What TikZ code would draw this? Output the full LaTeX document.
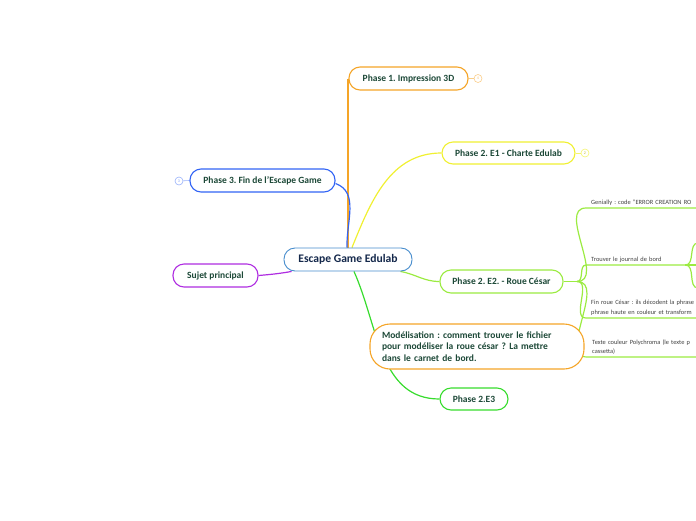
\documentclass[tikz,border=0pt]{standalone}
\usepackage{fontspec}
\setmainfont{Carlito}
\frenchspacing
\usetikzlibrary{backgrounds}

\definecolor{orangeline}{RGB}{245,165,40}
\definecolor{yellowline}{RGB}{240,240,50}
\definecolor{blueline}{RGB}{50,100,245}
\definecolor{centralline}{RGB}{70,140,205}
\definecolor{purpleline}{RGB}{175,45,225}
\definecolor{limeline}{RGB}{155,235,65}
\definecolor{greenline}{RGB}{55,220,45}
\definecolor{topictext}{RGB}{28,72,55}
\definecolor{centraltext}{RGB}{20,40,75}

\tikzset{
  topic/.style={draw, line width=1.1pt, fill=white, rounded corners=11pt, minimum height=23pt, inner sep=0pt, text=topictext, font=\fontsize{9.5}{11}\selectfont\bfseries},
  link/.style={line width=1.2pt},
  leaf/.style={anchor=south west, inner xsep=5pt, inner ysep=2pt, align=left, text=black!75, font=\fontsize{6.4}{9.8}\selectfont},
  marker/.style={circle, draw, line width=0.6pt, minimum size=8pt, inner sep=0pt, font=\fontsize{4}{4}\selectfont}
}

\begin{document}
\begin{tikzpicture}[x=1pt,y=1pt]
    \clip (0,0) rectangle (696,-520);

    % Central topic
    \node[topic, draw=centralline, line width=0.9pt, text=centraltext, minimum width=128pt, font=\fontsize{11.6}{13}\selectfont\bfseries] (central) at (348,-259.5) {Escape Game Edulab};

    % Main topics
    \node[topic, draw=orangeline, minimum width=119pt] (impression) at (408.5,-78.5) {Phase 1. Impression 3D};
    \node[topic, draw=yellowline, minimum width=133pt, minimum height=22pt] (charte) at (508.5,-153) {Phase 2.\ E1 - Charte Edulab};
    \node[topic, draw=blueline, minimum width=145pt] (fin) at (262.5,-180.5) {Phase 3. Fin de l'Escape Game};
    \node[topic, draw=purpleline, minimum width=85pt] (sujet) at (215.5,-275.5) {Sujet principal};
    \node[topic, draw=limeline, minimum width=123pt] (roue) at (501.5,-281.5) {Phase 2.\ E2. - Roue César};
    \node[topic, draw=orangeline, minimum width=214pt, minimum height=45pt, rounded corners=20pt, align=left, text width=190pt, font=\fontsize{9.5}{11.5}\selectfont\bfseries] (modelisation) at (477,-346.5) {Modélisation : comment trouver le fichier\\pour modéliser la roue césar ? La mettre\\dans le carnet de bord.};
    \node[topic, draw=greenline, minimum width=68pt, minimum height=22pt] (troisieme) at (474,-399) {Phase 2.E3};

    % Small counters
    \node[marker, draw=orangeline!55, text=orangeline!70] (markfour) at (478,-78.5) {4};
    \node[marker, draw=yellowline!70, text=yellowline!80!black] (marktwo) at (585,-153) {2};
    \node[marker, draw=blueline!50, text=blueline!60] (markthree) at (179,-181) {3};

    % Leaves of Roue Cesar
    \node[leaf, text width=140pt] (genially) at (586,-208) {Genially : code "ERROR CREATION RO};
    \node[leaf, text width=89pt] (journal) at (586,-265) {Trouver le journal de bord};
    \node[leaf, text width=140pt] (decodage) at (586,-318) {Fin roue César : ils décodent la phrase\\phrase haute en couleur et transform};
    \node[leaf, text width=140pt] (polychroma) at (587,-357) {Texte couleur Polychroma (le texte p\\cassetta)};
    \coordinate (rouefork) at (577,-281.5);
    \coordinate (journalfork) at (journal.south east);

    \begin{scope}[on background layer]
        % Links from the central topic
        \draw[link, orangeline] (central.north) -- (central.north |- impression.west);
        \draw[link, blueline] ([yshift=-3pt]fin.east) to[out=-20,in=92] ([xshift=-1pt]central.north);
        \draw[link, yellowline] (charte.west) to[out=180,in=68] ([xshift=4pt]central.north);
        \draw[link, purpleline] (sujet.east) to[out=5,in=190] ([xshift=8pt]central.south west);
        \draw[link, limeline] ([xshift=-12pt]central.south east) to[out=-10,in=180] (roue.west);
        \draw[link, greenline] ([xshift=6pt]central.south) to[out=-66,in=180] (troisieme.west);

        % Counters
        \draw[orangeline!55, line width=0.6pt] (impression.east) -- (markfour);
        \draw[yellowline!70, line width=0.6pt] (charte.east) -- (marktwo);
        \draw[blueline!50, line width=0.6pt] (fin.west) -- (markthree);

        % Leaves
        \draw[link, limeline] (roue.east) -- (rouefork);
        \draw[link, limeline] (rouefork) to[out=0,in=180] (genially.south west) -- (genially.south east);
        \draw[link, limeline] (rouefork) to[out=0,in=180] (journal.south west) -- (journal.south east);
        \draw[link, limeline] (rouefork) to[out=0,in=180] (decodage.south west) -- (decodage.south east);
        \draw[link, limeline] (rouefork) to[out=0,in=180] (polychroma.south west) -- (polychroma.south east);
        \draw[link, limeline] (journalfork) to[out=0,in=180] (698,-243);
        \draw[link, limeline] (journalfork) -- (698,-265);
        \draw[link, limeline] (journalfork) to[out=0,in=180] (698,-288);
    \end{scope}
\end{tikzpicture}
\end{document}
